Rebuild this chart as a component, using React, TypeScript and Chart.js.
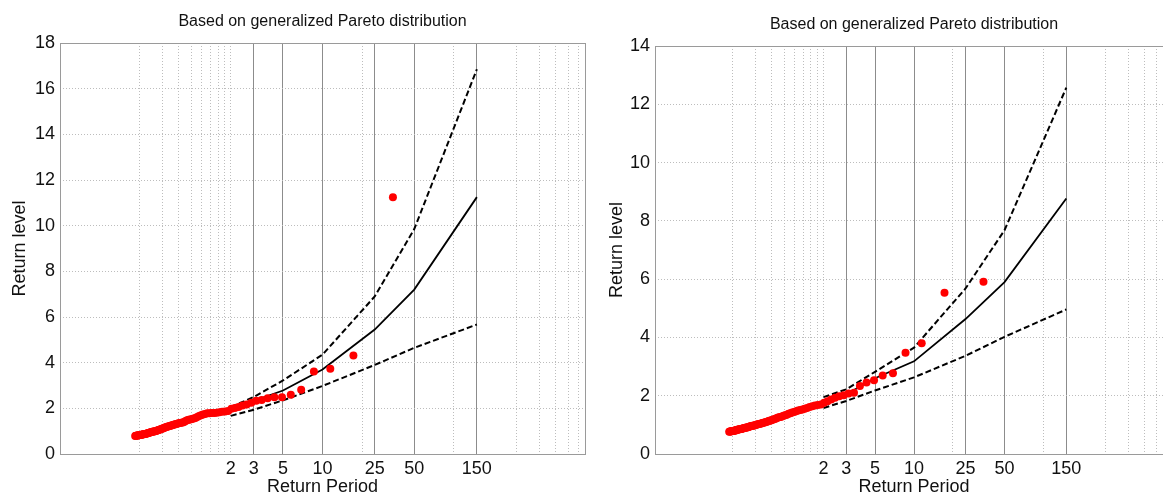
import React, { useEffect, useRef } from "react";
import { Chart, registerables } from "chart.js";

Chart.register(...registerables);

const CHART_TITLE = "Based on generalized Pareto distribution";
const X_TITLE = "Return Period";
const Y_TITLE = "Return level";

// Return periods at which the fitted curves are evaluated
const curvePeriods = [2, 3, 5, 10, 25, 50, 150];
// Tick labels / grid lines on the log x axis
const labeledPeriods = [2, 3, 5, 10, 25, 50, 150];
const solidGridPeriods = [3, 5, 10, 25, 50, 150];
const dottedGridPeriods = [0.4, 0.6, 0.8, 1, 1.2, 1.4, 1.6, 1.8, 2, 20, 100, 300, 450, 600, 750, 900];

// Empirical return periods of the observations (ascending)
const empiricalPeriods = [
  0.374, 0.378, 0.382, 0.387, 0.391, 0.395, 0.4, 0.405, 0.41, 0.414,
  0.42, 0.425, 0.43, 0.435, 0.441, 0.447, 0.453, 0.459, 0.465, 0.471,
  0.478, 0.485, 0.491, 0.499, 0.506, 0.513, 0.521, 0.529, 0.538, 0.546,
  0.555, 0.564, 0.573, 0.583, 0.593, 0.604, 0.614, 0.625, 0.637, 0.649,
  0.662, 0.675, 0.688, 0.702, 0.717, 0.732, 0.748, 0.764, 0.782, 0.8,
  0.819, 0.839, 0.86, 0.882, 0.905, 0.93, 0.956, 0.983, 1.012, 1.042,
  1.075, 1.11, 1.147, 1.186, 1.229, 1.274, 1.323, 1.376, 1.433, 1.496,
  1.564, 1.638, 1.72, 1.811, 1.911, 2.024, 2.15, 2.293, 2.457, 2.646,
  2.867, 3.127, 3.44, 3.822, 4.3, 4.914, 5.733, 6.88, 8.6, 11.467,
  17.2, 34.4,
];

// Left panel
const leftObserved = [
  0.79, 0.8, 0.8, 0.81, 0.81, 0.82, 0.82, 0.83, 0.83, 0.84,
  0.84, 0.85, 0.86, 0.87, 0.88, 0.88, 0.89, 0.9, 0.91, 0.92,
  0.93, 0.94, 0.95, 0.96, 0.97, 0.98, 0.99, 1.0, 1.01, 1.02,
  1.04, 1.05, 1.06, 1.08, 1.1, 1.12, 1.13, 1.15, 1.17, 1.18,
  1.2, 1.21, 1.23, 1.25, 1.26, 1.28, 1.29, 1.31, 1.33, 1.35,
  1.36, 1.37, 1.38, 1.4, 1.45, 1.48, 1.5, 1.51, 1.53, 1.55,
  1.58, 1.62, 1.66, 1.7, 1.73, 1.75, 1.78, 1.79, 1.8, 1.8,
  1.81, 1.83, 1.85, 1.86, 1.88, 1.98, 2.02, 2.06, 2.12, 2.17,
  2.25, 2.33, 2.37, 2.44, 2.49, 2.49, 2.59, 2.81, 3.61, 3.73,
  4.31, 11.25,
];
const leftEstimate = [1.95, 2.33, 2.78, 3.7, 5.45, 7.2, 11.25];
const leftUpper = [2.05, 2.5, 3.22, 4.35, 6.9, 9.85, 16.85];
const leftLower = [1.67, 1.94, 2.35, 2.98, 3.9, 4.65, 5.67];
const leftYMax = 18;

// Right panel
const rightObserved = [
  0.76, 0.77, 0.77, 0.78, 0.78, 0.79, 0.79, 0.8, 0.8, 0.81,
  0.81, 0.82, 0.83, 0.83, 0.84, 0.85, 0.85, 0.86, 0.86, 0.87,
  0.88, 0.88, 0.89, 0.9, 0.91, 0.91, 0.92, 0.93, 0.94, 0.95,
  0.96, 0.97, 0.97, 0.98, 0.99, 1.0, 1.01, 1.02, 1.03, 1.04,
  1.05, 1.06, 1.07, 1.08, 1.1, 1.11, 1.12, 1.14, 1.15, 1.17,
  1.18, 1.2, 1.22, 1.24, 1.26, 1.27, 1.29, 1.31, 1.33, 1.35,
  1.38, 1.4, 1.42, 1.44, 1.47, 1.49, 1.51, 1.53, 1.55, 1.58,
  1.61, 1.64, 1.66, 1.68, 1.7, 1.76, 1.81, 1.87, 1.93, 1.98,
  2.02, 2.08, 2.1, 2.33, 2.45, 2.53, 2.69, 2.77, 3.47, 3.8,
  5.53, 5.91,
];
const rightEstimate = [1.75, 2.05, 2.6, 3.18, 4.63, 5.9, 8.77];
const rightUpper = [1.95, 2.22, 2.82, 3.65, 5.68, 7.68, 12.57];
const rightLower = [1.58, 1.82, 2.18, 2.63, 3.37, 4.02, 4.96];
const rightYMax = 14;

const FONT = "'Liberation Sans', Arial, Helvetica, sans-serif";
const TEXT_COLOR = "#111111";

type PanelProps = {
  left: number;
  width: number;
  height: number;
  area: { left: number; right: number; top: number; bottom: number };
  yMax: number;
  yTitleX: number;
  observed: number[];
  estimate: number[];
  upper: number[];
  lower: number[];
};

function toPoints(xs: number[], ys: number[]) {
  return xs.map((x, i) => ({ x, y: ys[i] }));
}

function Panel(props: PanelProps) {
  const ref = useRef<HTMLCanvasElement | null>(null);

  useEffect(() => {
    const canvas = ref.current;
    if (!canvas) return;
    const { area, width, height } = props;
    const allTicks = [...dottedGridPeriods, ...solidGridPeriods].sort((a, b) => a - b);

    const decor = {
      id: "decor",
      afterDraw(chart: any) {
        const ctx = chart.ctx;
        const ca = chart.chartArea;
        ctx.save();
        ctx.strokeStyle = "#9a9a9a";
        ctx.lineWidth = 1;
        ctx.strokeRect(ca.left + 0.5, ca.top + 0.5, ca.right - ca.left, ca.bottom - ca.top);
        ctx.fillStyle = TEXT_COLOR;
        ctx.textAlign = "center";
        ctx.textBaseline = "middle";
        const cx = (ca.left + ca.right) / 2;
        ctx.font = `16px ${FONT}`;
        ctx.fillText(CHART_TITLE, cx, ca.top - 21);
        ctx.font = `18px ${FONT}`;
        ctx.fillText(X_TITLE, cx, ca.bottom + 33);
        ctx.translate(props.yTitleX, (ca.top + ca.bottom) / 2);
        ctx.rotate(-Math.PI / 2);
        ctx.fillText(Y_TITLE, 0, 0);
        ctx.restore();
      },
    };

    const chart = new Chart(canvas, {
      type: "scatter",
      data: {
        datasets: [
          {
            label: "observed",
            data: toPoints(empiricalPeriods, props.observed),
            backgroundColor: "#ff0000",
            borderColor: "#ff0000",
            pointRadius: 4,
            pointBorderWidth: 0,
            showLine: false,
          },
          {
            label: "estimate",
            data: toPoints(curvePeriods, props.estimate),
            borderColor: "#000000",
            borderWidth: 1.8,
            pointRadius: 0,
            showLine: true,
            tension: 0,
          },
          {
            label: "upper",
            data: toPoints(curvePeriods, props.upper),
            borderColor: "#000000",
            borderWidth: 2,
            borderDash: [6, 3],
            pointRadius: 0,
            showLine: true,
            tension: 0,
          },
          {
            label: "lower",
            data: toPoints(curvePeriods, props.lower),
            borderColor: "#000000",
            borderWidth: 2,
            borderDash: [6, 3],
            pointRadius: 0,
            showLine: true,
            tension: 0,
          },
        ],
      },
      options: {
        responsive: false,
        animation: false,
        events: [],
        layout: {
          padding: { left: 0, top: area.top, right: width - area.right, bottom: 0 },
        },
        plugins: {
          legend: { display: false },
          tooltip: { enabled: false },
          title: { display: false },
        },
        scales: {
          x: {
            type: "logarithmic",
            min: 0.1,
            max: 1000,
            afterBuildTicks: (scale: any) => {
              scale.ticks = allTicks.map((v) => ({ value: v }));
            },
            afterFit: (scale: any) => {
              scale.height = height - area.bottom;
            },
            ticks: {
              autoSkip: false,
              maxRotation: 0,
              minRotation: 0,
              padding: 4,
              color: TEXT_COLOR,
              font: { family: FONT, size: 18 },
              callback: (value: any) =>
                labeledPeriods.includes(Number(value)) ? String(value) : "",
            },
            grid: {
              drawTicks: false,
              lineWidth: 1,
              color: (ctx: any) =>
                ctx.tick && solidGridPeriods.includes(ctx.tick.value) ? "#8c8c8c" : "#bdbdbd",
            },
            border: {
              display: false,
              dash: (ctx: any) =>
                ctx.tick && solidGridPeriods.includes(ctx.tick.value) ? [] : [1, 2],
            },
          },
          y: {
            type: "linear",
            min: 0,
            max: props.yMax,
            afterFit: (scale: any) => {
              scale.width = area.left;
            },
            ticks: {
              stepSize: 2,
              padding: 5,
              color: TEXT_COLOR,
              font: { family: FONT, size: 18 },
            },
            grid: {
              drawTicks: false,
              lineWidth: 1,
              color: "#bdbdbd",
            },
            border: { display: false, dash: [1, 2] },
          },
        },
      },
      plugins: [decor],
    } as any);

    return () => chart.destroy();
  }, []);

  return (
    <canvas
      ref={ref}
      width={props.width}
      height={props.height}
      style={{
        position: "absolute",
        left: props.left,
        top: 0,
        width: props.width,
        height: props.height,
      }}
    />
  );
}

export default function App() {
  return (
    <div
      style={{
        position: "fixed",
        left: 0,
        top: 0,
        width: 1163,
        height: 497,
        overflow: "hidden",
        background: "#ffffff",
      }}
    >
      <Panel
        left={0}
        width={600}
        height={497}
        area={{ left: 60, right: 585, top: 43, bottom: 454 }}
        yMax={leftYMax}
        yTitleX={20}
        observed={leftObserved}
        estimate={leftEstimate}
        upper={leftUpper}
        lower={leftLower}
      />
      <Panel
        left={590}
        width={600}
        height={497}
        area={{ left: 65, right: 583, top: 46, bottom: 454 }}
        yMax={rightYMax}
        yTitleX={27}
        observed={rightObserved}
        estimate={rightEstimate}
        upper={rightUpper}
        lower={rightLower}
      />
    </div>
  );
}
